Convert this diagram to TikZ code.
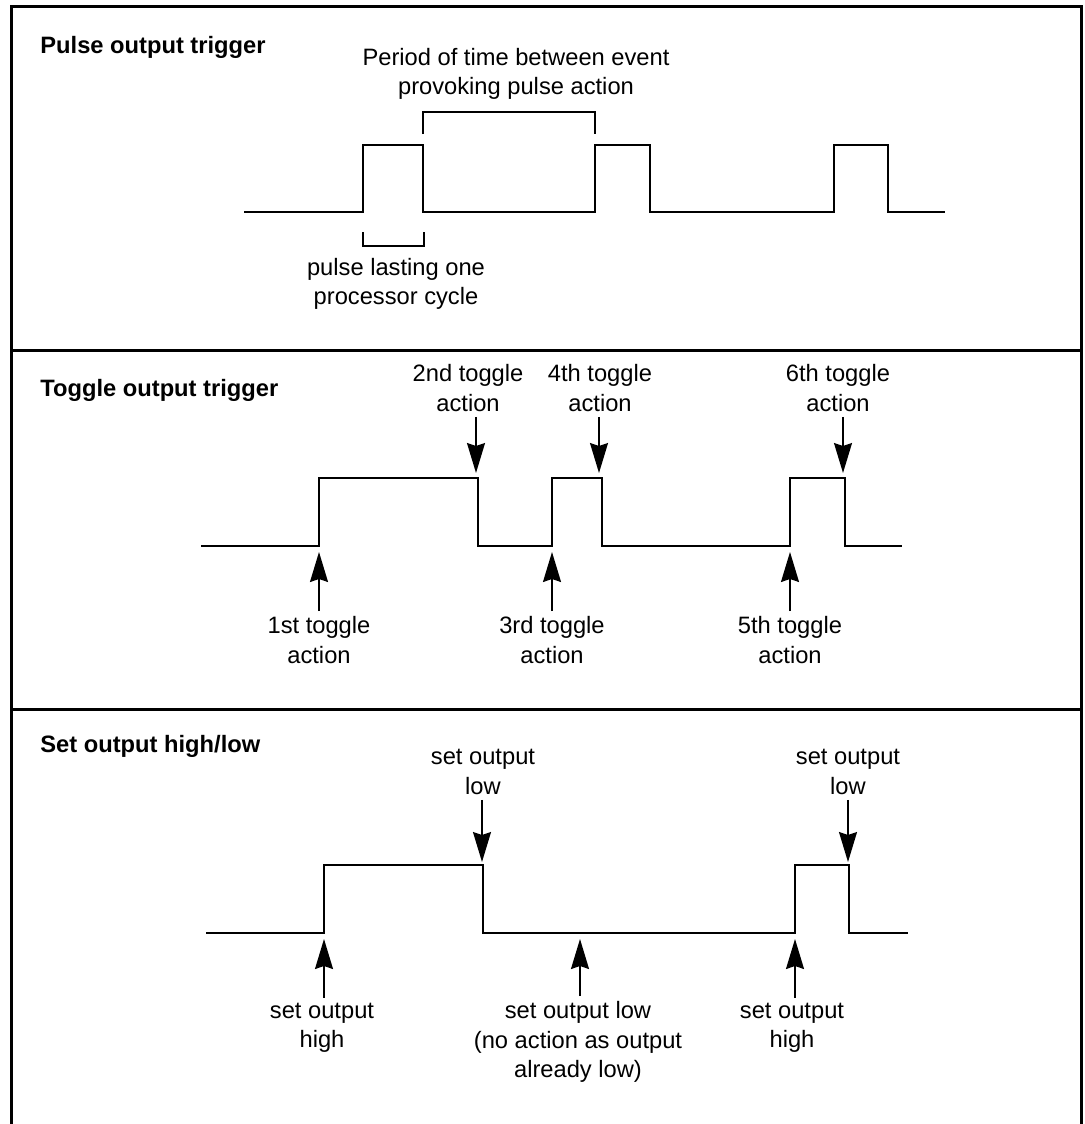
\documentclass[tikz,border=0pt]{standalone}
\usepackage{fontspec}
\setmainfont{Liberation Sans}
\usetikzlibrary{arrows.meta,positioning}

\begin{document}
\begin{tikzpicture}[x=0.5pt,y=-0.5pt,
    sig/.style={line width=0.75pt},
    frm/.style={line width=1.5pt},
    lbl/.style={align=center,inner sep=0pt,font=\fontsize{11.85}{14.75}\selectfont},
    ttl/.style={anchor=west,inner sep=0pt,font=\fontsize{11.85}{14.75}\selectfont\bfseries},
    arr/.style={line width=0.75pt,shorten <=2.5pt,-{Stealth[length=15pt,width=9pt,inset=1.5pt]}}]
    \useasboundingbox (0,0) rectangle (1084,1124);

    % Frame
    \draw[frm] (11,1124) -- (11,6) -- (1081,6) -- (1081,1124);
    \draw[frm] (11,350) -- (1081,350);
    \draw[frm] (11,709) -- (1081,709);

    % Pulse output trigger
    \node[ttl] (t1) at (40,47) {Pulse output trigger};
    \draw[sig] (244,212) -- (363,212) |- (423,145) |- (595,212) |- (650,145) |- (834,212) |- (888,145) |- (945,212);
    \draw[sig] (423,134) -- (423,112) -- (595,112) -- (595,134);
    \draw[sig] (363,232) -- (363,246) -- (424,246) -- (424,232);
    \node[lbl] (per) at (516,74) {Period of time between event\\provoking pulse action};
    \node[lbl] (cyc) at (396,284) {pulse lasting one\\processor cycle};

    % Toggle output trigger
    \node[ttl] (t2) at (40,390) {Toggle output trigger};
    \draw[sig] (201,546) -- (319,546) |- (478,478) |- (552,546) |- (602,478) |- (790,546) |- (845,478) |- (902,546);
    \node[lbl] (a2) at (468,388) {2nd toggle\\action};
    \node[lbl] (a4) at (600,388) {4th toggle\\action};
    \node[lbl] (a6) at (838,388) {6th toggle\\action};
    \node[lbl] (a1) at (319,640) {1st toggle\\action};
    \node[lbl] (a3) at (552,640) {3rd toggle\\action};
    \node[lbl] (a5) at (790,640) {5th toggle\\action};
    \coordinate (k1) at (319,552);
    \coordinate (k2) at (476,473);
    \coordinate (k3) at (552,552);
    \coordinate (k4) at (599,473);
    \coordinate (k5) at (790,552);
    \coordinate (k6) at (843,473);
    \foreach \n in {2,4,6}
        \draw[arr] (a\n.south -| k\n) -- (k\n);
    \foreach \n in {1,3,5}
        \draw[arr] (a\n.north -| k\n) -- (k\n);

    % Set output high/low
    \node[ttl] (t3) at (40,746) {Set output high/low};
    \draw[sig] (206,933) -- (324,933) |- (483,865) |- (795,933) |- (849,865) |- (908,933);
    \node[lbl] (s1) at (483,772) {set output\\low};
    \node[lbl] (s2) at (848,772) {set output\\low};
    \node[lbl] (s3) at (322,1028) {set output\\high};
    \node[lbl] (s4) at (578,1042) {set output low\\(no action as output\\already low)};
    \node[lbl] (s5) at (792,1028) {set output\\high};
    \coordinate (m1) at (482,862);
    \coordinate (m2) at (848,862);
    \coordinate (m3) at (324,939);
    \coordinate (m4) at (580,939);
    \coordinate (m5) at (795,939);
    \foreach \n in {1,2}
        \draw[arr] (s\n.south -| m\n) -- (m\n);
    \foreach \n in {3,4,5}
        \draw[arr] (s\n.north -| m\n) -- (m\n);
\end{tikzpicture}
\end{document}
